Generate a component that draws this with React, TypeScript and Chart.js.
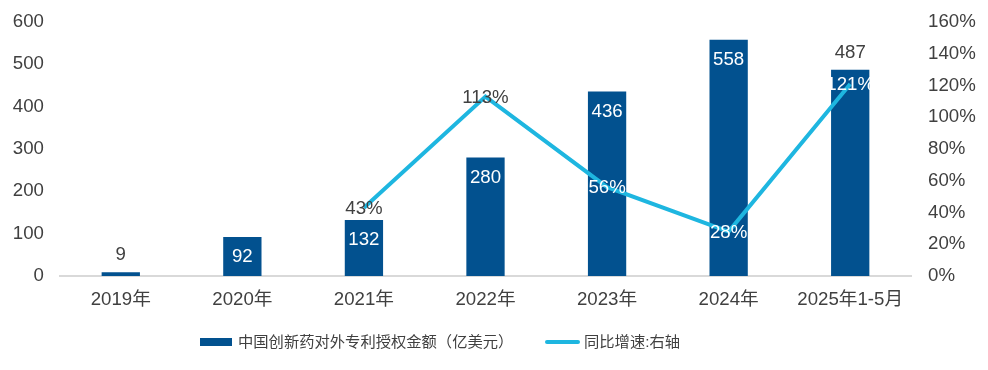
import React, { useEffect, useRef } from "react";
import { Chart, registerables } from "chart.js";

Chart.register(...registerables);

const categories = ["2019年", "2020年", "2021年", "2022年", "2023年", "2024年", "2025年1-5月"];
const licenseValues = [9, 92, 132, 280, 436, 558, 487];
const growthValues: (number | null)[] = [null, null, 43, 113, 56, 28, 121];
const barLabelInside = [false, true, true, true, true, true, false];
const lineLabelWhite = [false, false, false, false, true, true, true];
const barName = "中国创新药对外专利授权金额（亿美元）";
const lineName = "同比增速:右轴";

const BAR_COLOR = "#02518F";
const LINE_COLOR = "#1EB6E0";
const TEXT_COLOR = "#404040";
const FONT_FAMILY = "Arial, 'Liberation Sans', 'Noto Sans CJK SC', sans-serif";
const FONT_SIZE = 18.67;

const labelPlugin = {
  id: "valueLabels",
  afterDatasetsDraw(chart: any) {
    const ctx = chart.ctx;
    ctx.save();
    ctx.font = `${FONT_SIZE}px ${FONT_FAMILY}`;
    ctx.textAlign = "center";
    ctx.textBaseline = "middle";
    const barMeta = chart.getDatasetMeta(0);
    barMeta.data.forEach((el: any, i: number) => {
      const v = licenseValues[i];
      if (barLabelInside[i]) {
        ctx.fillStyle = "#ffffff";
        ctx.fillText(String(v), el.x, el.y + 20);
      } else {
        ctx.fillStyle = TEXT_COLOR;
        ctx.fillText(String(v), el.x, el.y - 17);
      }
    });
    const lineMeta = chart.getDatasetMeta(1);
    lineMeta.data.forEach((el: any, i: number) => {
      const v = growthValues[i];
      if (v === null || v === undefined) return;
      ctx.fillStyle = lineLabelWhite[i] ? "#ffffff" : TEXT_COLOR;
      ctx.fillText(`${v}%`, el.x, el.y + 1);
    });
    ctx.restore();
  },
};

const zeroPad = (axis: any) => {
  axis.paddingTop = 0;
  axis.paddingBottom = 0;
  axis.paddingLeft = 0;
  axis.paddingRight = 0;
};

export default function App() {
  const canvasRef = useRef<HTMLCanvasElement | null>(null);

  useEffect(() => {
    const canvas = canvasRef.current;
    if (!canvas) return;
    const chart = new Chart(canvas, {
      type: "bar",
      data: {
        labels: categories,
        datasets: [
          {
            type: "bar",
            label: barName,
            data: licenseValues,
            backgroundColor: BAR_COLOR,
            barPercentage: 0.63,
            categoryPercentage: 0.5,
            yAxisID: "y",
            order: 1,
          },
          {
            type: "line",
            label: lineName,
            data: growthValues,
            borderColor: LINE_COLOR,
            backgroundColor: LINE_COLOR,
            borderWidth: 4,
            pointRadius: 0,
            tension: 0,
            yAxisID: "y1",
            order: 0,
            spanGaps: false,
          } as any,
        ],
      },
      options: {
        animation: false,
        responsive: false,
        maintainAspectRatio: false,
        layout: { padding: { top: 22, bottom: 54, left: 0, right: 0 } },
        plugins: {
          legend: { display: false },
          tooltip: { enabled: false },
        },
        scales: {
          x: {
            grid: { display: false, drawTicks: false },
            border: { display: true, color: "#D9D9D9", width: 2 },
            ticks: {
              color: TEXT_COLOR,
              font: { size: FONT_SIZE, family: FONT_FAMILY },
              padding: 13,
              maxRotation: 0,
              autoSkip: false,
            },
            afterFit: (axis: any) => {
              axis.height = 40;
              zeroPad(axis);
            },
          },
          y: {
            position: "left",
            min: 0,
            max: 600,
            grid: { display: false, drawTicks: false },
            border: { display: false },
            ticks: {
              stepSize: 100,
              color: TEXT_COLOR,
              font: { size: FONT_SIZE, family: FONT_FAMILY },
              padding: 16,
            },
            afterFit: (axis: any) => {
              axis.width = 60;
              zeroPad(axis);
            },
          },
          y1: {
            position: "right",
            min: 0,
            max: 160,
            grid: { display: false, drawTicks: false },
            border: { display: false },
            ticks: {
              stepSize: 20,
              color: TEXT_COLOR,
              font: { size: FONT_SIZE, family: FONT_FAMILY },
              padding: 17,
              callback: (v: any) => `${v}%`,
            },
            afterFit: (axis: any) => {
              axis.width = 77;
              zeroPad(axis);
            },
          },
        },
      },
      plugins: [labelPlugin],
    });
    return () => chart.destroy();
  }, []);

  const legendText: React.CSSProperties = {
    fontFamily: FONT_FAMILY,
    fontSize: "15.3px",
    color: TEXT_COLOR,
    whiteSpace: "nowrap",
    lineHeight: "18px",
  };

  return (
    <div style={{ position: "fixed", left: 0, top: 0, width: 988, height: 370, background: "#fff" }}>
      <canvas ref={canvasRef} width={988} height={370} style={{ display: "block", width: 988, height: 370 }} />
      <div style={{ position: "absolute", left: 200, top: 333, display: "flex", alignItems: "center", height: 18 }}>
        <span style={{ display: "inline-block", width: 32, height: 8, background: BAR_COLOR, marginRight: 6 }} />
        <span style={legendText}>{barName}</span>
      </div>
      <div style={{ position: "absolute", left: 545, top: 333, display: "flex", alignItems: "center", height: 18 }}>
        <span style={{ display: "inline-block", width: 35, height: 4, borderRadius: 2, background: LINE_COLOR, marginRight: 4 }} />
        <span style={legendText}>{lineName}</span>
      </div>
    </div>
  );
}
